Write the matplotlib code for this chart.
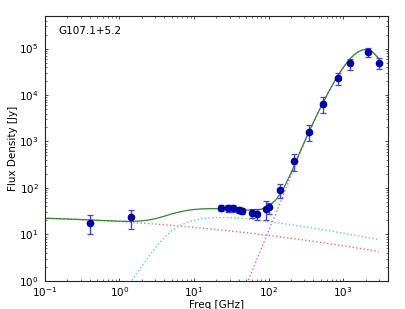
import numpy as np
import matplotlib
matplotlib.use("Agg")
import matplotlib.pyplot as plt

# measured fluxes (GHz, Jy)
freq = [0.408, 1.42, 22.8, 28.4, 33.0, 40.6, 44.1, 60.8, 70.4, 93.5, 100.0,
        143.0, 217.0, 353.0, 545.0, 857.0, 1249.0, 2141.0, 2998.0]
flux = [18.0, 23.4, 37.7, 36.6, 36.6, 33.6, 32.5, 28.5, 27.6, 36.0, 38.0,
        92.0, 387.0, 1630.0, 6500.0, 22800.0, 48000.0, 85500.0, 49600.0]
flux_err = [8.0, 10.0, 6.0, 6.0, 6.0, 5.0, 5.0, 6.0, 7.0, 16.0, 10.0,
            32.0, 150.0, 600.0, 2400.0, 6400.0, 13000.0, 19000.0, 14000.0]

# model components (log10 GHz -> log10 Jy)
model_logf = [-1.0, -0.9, -0.8, -0.7, -0.6, -0.5, -0.4, -0.3, -0.2, -0.1,
              0.0, 0.1, 0.2, 0.3, 0.4, 0.5, 0.6, 0.7, 0.8, 0.9,
              1.0, 1.1, 1.2, 1.3, 1.4, 1.5, 1.6, 1.7, 1.8, 1.9,
              2.0, 2.1, 2.2, 2.3, 2.4, 2.5, 2.6, 2.7, 2.8, 2.9, 2.95,
              3.0, 3.05, 3.1, 3.15, 3.2, 3.25, 3.3, 3.35, 3.4, 3.45, 3.477]
sync_log = [1.348, 1.343, 1.337, 1.331, 1.325, 1.318, 1.310, 1.302, 1.294, 1.285,
            1.275, 1.265, 1.254, 1.243, 1.232, 1.220, 1.207, 1.194, 1.181, 1.167,
            1.152, 1.137, 1.121, 1.105, 1.089, 1.072, 1.054, 1.036, 1.018, 0.999,
            0.979, 0.959, 0.938, 0.917, 0.896, 0.874, 0.851, 0.828, 0.805, 0.781, 0.769,
            0.756, 0.744, 0.731, 0.718, 0.705, 0.692, 0.679, 0.666, 0.653, 0.640, 0.632]
ff_log = [-2.38, -2.18, -1.98, -1.78, -1.58, -1.38, -1.18, -0.98, -0.78, -0.58,
          -0.38, -0.14, 0.09, 0.32, 0.54, 0.75, 0.93, 1.08, 1.18, 1.255,
          1.305, 1.337, 1.355, 1.362, 1.362, 1.358, 1.350, 1.338, 1.320, 1.298,
          1.275, 1.254, 1.232, 1.209, 1.185, 1.160, 1.134, 1.108, 1.081, 1.054, 1.040,
          1.026, 1.012, 0.998, 0.984, 0.970, 0.956, 0.942, 0.928, 0.914, 0.900, 0.892]
# thermal dust, from 10^1.6 GHz upwards (last entries of model_logf)
dust_log = [-0.494, -0.100, 0.293, 0.684, 1.072, 1.457, 1.850, 2.262, 2.675, 3.053,
            3.403, 3.737, 4.051, 4.338, 4.469, 4.588, 4.696, 4.790, 4.868, 4.927,
            4.965, 4.979, 4.964, 4.918, 4.837, 4.775]

mf = 10 ** np.array(model_logf)
sync = 10 ** np.array(sync_log)
ff = 10 ** np.array(ff_log)
dust = 10 ** np.array(dust_log)
nd = len(dust)
total = sync + ff
total[-nd:] += dust

fig = plt.figure(figsize=(4.05, 3.09), dpi=100)
ax = fig.add_axes([0.111, 0.091, 0.847, 0.857])

ax.plot(mf, sync, ':', color='#ff6666', lw=1.0)
ax.plot(mf, ff, ':', color='#55d5d5', lw=1.0)
ax.plot(mf[-nd:], dust, ':', color='#d060e0', lw=1.0)
ax.plot(mf, total, '-', color='#2a8a2a', lw=0.9)

ax.errorbar(freq, flux, yerr=flux_err, fmt='o', ms=4.5, color='#0000cc',
            mec='#00008a', ecolor='#4040ff', elinewidth=1.0, capsize=2.5,
            capthick=0.9, zorder=5)

ax.set_xscale('log')
ax.set_yscale('log')
ax.set_xlim(0.1, 4000)
ax.set_ylim(1, 5e5)

ax.tick_params(which='both', direction='in', top=True, right=True,
               labelsize=7.5, color='#333333')
ax.tick_params(axis='x', pad=3)
ax.tick_params(axis='y', pad=4.5)
ax.tick_params(which='major', length=2.5, width=0.6)
ax.tick_params(which='minor', length=1.3, width=0.5)
for s in ax.spines.values():
    s.set_color('#222222')
    s.set_linewidth(0.8)

ax.set_xlabel('Freq [GHz]', fontsize=7.5, labelpad=0.5)
ax.set_ylabel('Flux Density [Jy]', fontsize=7.5, labelpad=1)
ax.text(0.04, 0.962, 'G107.1+5.2', transform=ax.transAxes, fontsize=7.5,
        ha='left', va='top')

fig.savefig('out.png', dpi=100)
